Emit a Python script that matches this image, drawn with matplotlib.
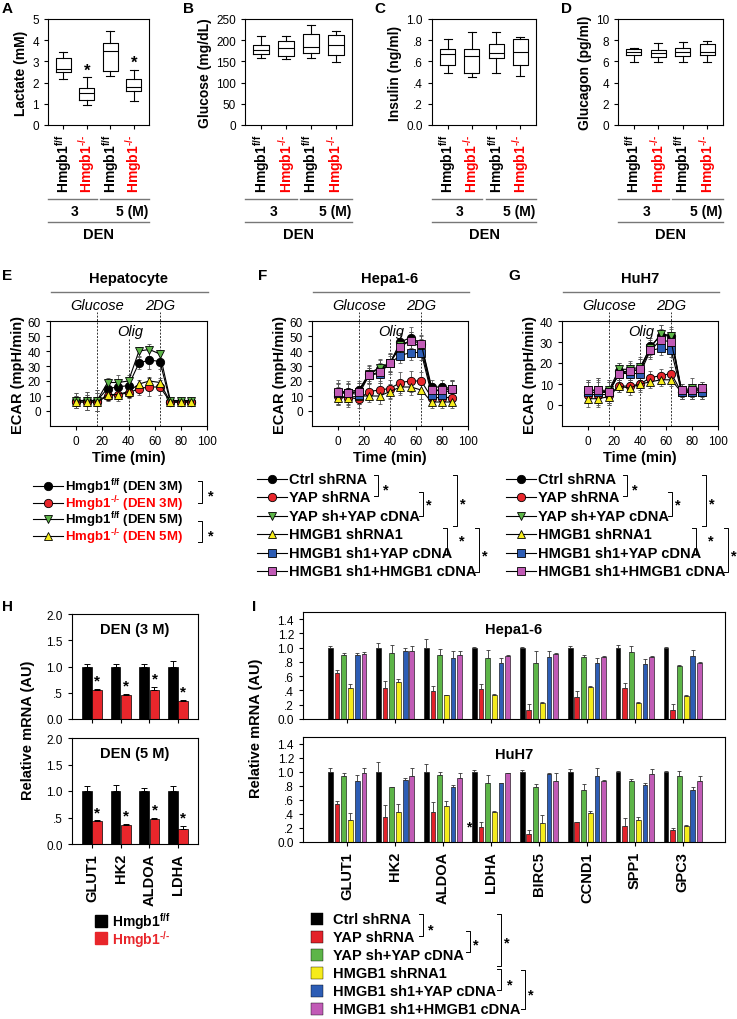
import matplotlib
matplotlib.use("Agg")
import matplotlib.pyplot as plt
import matplotlib.transforms as mtransforms
import numpy as np

plt.rcParams['font.family'] = ['Liberation Sans', 'DejaVu Sans']
plt.rcParams['mathtext.fontset'] = 'custom'
plt.rcParams['mathtext.rm'] = 'Liberation Sans:bold'
plt.rcParams['mathtext.it'] = 'Liberation Sans:bold'
plt.rcParams['mathtext.bf'] = 'Liberation Sans:bold'
plt.rcParams['mathtext.default'] = 'rm'
plt.rcParams['xtick.labelsize'] = 8.5
plt.rcParams['ytick.labelsize'] = 8.5
plt.rcParams['axes.linewidth'] = 0.8
plt.rcParams['xtick.major.size'] = 3
plt.rcParams['ytick.major.size'] = 3

FF = r"Hmgb1$^{\text{f/f}}$"
KO = r"Hmgb1$^{\text{-/-}}$"

# ---- data: panels A-D (whislo, q1, median, q3, whishi) ----
box_labels = [FF, KO, FF, KO]
box_colors = ["black", "red", "black", "red"]
lactate = [[2.15, 2.5, 2.65, 3.15, 3.45], [0.95, 1.2, 1.5, 1.75, 2.25],
           [2.3, 2.55, 3.5, 3.85, 4.45], [1.15, 1.6, 1.8, 2.15, 2.6]]
lactate_sig = [False, True, False, True]
glucose = [[158, 167, 178, 188, 210], [156, 163, 182, 198, 210],
           [157, 170, 185, 214, 235], [148, 166, 188, 212, 222]]
insulin = [[0.49, 0.565, 0.67, 0.72, 0.81], [0.45, 0.49, 0.655, 0.715, 0.875],
           [0.49, 0.63, 0.675, 0.765, 0.88], [0.46, 0.57, 0.69, 0.81, 0.83]]
glucagon = [[5.9, 6.65, 6.9, 7.15, 7.3], [5.9, 6.45, 6.75, 7.1, 7.75],
            [5.9, 6.5, 6.9, 7.3, 7.8], [5.9, 6.65, 6.85, 7.65, 7.9]]
no_sig = [False] * 4

# ---- data: panels E-G (ECAR) ----
time_min = [0, 8, 16, 24, 32, 40, 48, 56, 64, 72, 80, 88]
inj_times = [16, 40, 64]

hep_ff3 = [7, 7, 7, 15, 16, 17, 32, 34, 33, 6, 6, 6]
hep_ff3_err = [5, 6, 7, 4, 5, 5, 4, 6, 5, 2, 2, 2]
hep_ko3 = [6, 6, 6, 10, 11, 12, 15, 16, 16, 6, 6, 6]
hep_ko3_err = [4, 5, 6, 3, 4, 3, 4, 6, 5, 2, 2, 2]
hep_ff5 = [7, 7, 7, 19, 19, 20, 40, 41, 38, 7, 7, 7]
hep_ff5_err = [5, 6, 7, 3, 5, 4, 3, 4, 3, 2, 2, 2]
hep_ko5 = [6, 6, 6, 11, 11, 13, 18, 20, 19, 6, 6, 6]
hep_ko5_err = [4, 5, 6, 3, 3, 3, 3, 3, 3, 2, 2, 2]

hepa_ctrl = [13, 13, 14, 25, 28, 32, 46, 49, 45, 16, 16, 15]
hepa_ctrl_err = [8, 7, 6, 5, 6, 7, 6, 7, 6, 5, 5, 6]
hepa_yapsh = [10, 9, 8, 13, 14, 15, 19, 20, 20, 9, 9, 9]
hepa_yapsh_err = [6, 6, 6, 5, 5, 6, 7, 7, 6, 4, 5, 5]
hepa_yapres = [12, 12, 13, 25, 29, 32, 44, 47, 42, 13, 14, 15]
hepa_yapres_err = [7, 7, 6, 6, 6, 5, 5, 6, 6, 5, 5, 6]
hepa_hsh = [9, 9, 10, 10, 10, 13, 16, 16, 14, 6, 6, 6]
hepa_hsh_err = [5, 5, 5, 4, 5, 5, 5, 5, 6, 4, 4, 4]
hepa_hyap = [12, 12, 11, 24, 25, 32, 37, 39, 39, 11, 11, 15]
hepa_hyap_err = [6, 6, 6, 5, 6, 6, 5, 5, 5, 5, 5, 5]
hepa_hres = [13, 12, 13, 24, 26, 32, 43, 47, 45, 14, 14, 15]
hepa_hres_err = [6, 6, 6, 5, 6, 6, 5, 6, 5, 5, 5, 5]

huh_ctrl = [6, 6, 6, 16, 16, 17, 28, 33, 33, 6, 7, 7]
huh_ctrl_err = [5, 6, 6, 4, 4, 5, 4, 5, 4, 3, 3, 3]
huh_yapsh = [5, 5, 5, 9, 9, 10, 13, 14, 15, 6, 6, 6]
huh_yapsh_err = [4, 4, 4, 3, 3, 4, 3, 3, 3, 3, 3, 3]
huh_yapres = [7, 7, 7, 17, 17, 18, 27, 34, 33, 7, 8, 8]
huh_yapres_err = [5, 6, 5, 3, 4, 5, 4, 4, 3, 3, 5, 3]
huh_hsh = [3, 3, 4, 9, 8, 10, 11, 12, 12, 6, 6, 6]
huh_hsh_err = [4, 4, 4, 3, 3, 3, 3, 3, 3, 3, 3, 3]
huh_hyap = [6, 6, 6, 15, 15, 15, 26, 27, 26, 6, 6, 6]
huh_hyap_err = [5, 5, 5, 3, 3, 4, 3, 3, 3, 3, 3, 3]
huh_hres = [7, 7, 6, 15, 16, 17, 26, 31, 30, 7, 7, 8]
huh_hres_err = [5, 6, 5, 3, 3, 5, 4, 5, 4, 3, 3, 3]

hep_names = [FF + " (DEN 3M)", KO + " (DEN 3M)", FF + " (DEN 5M)", KO + " (DEN 5M)"]
hep_text_colors = ["black", "red", "black", "red"]
cell_names = ["Ctrl shRNA", "YAP shRNA", "YAP sh+YAP cDNA", "HMGB1 shRNA1",
              "HMGB1 sh1+YAP cDNA", "HMGB1 sh1+HMGB1 cDNA"]

# ---- data: panel H ----
h_genes = ["GLUT1", "HK2", "ALDOA", "LDHA"]
h3_ff = [1.0, 1.0, 1.0, 1.0]
h3_ff_err = [0.05, 0.04, 0.04, 0.1]
h3_ko = [0.56, 0.46, 0.56, 0.34]
h3_ko_err = [0.02, 0.02, 0.05, 0.03]
h5_ff = [1.0, 1.0, 1.0, 1.0]
h5_ff_err = [0.1, 0.12, 0.06, 0.1]
h5_ko = [0.43, 0.36, 0.47, 0.28]
h5_ko_err = [0.02, 0.02, 0.03, 0.06]

# ---- data: panel I (rows = genes; cols = 6 conditions) ----
i_genes = ["GLUT1", "HK2", "ALDOA", "LDHA", "BIRC5", "CCND1", "SPP1", "GPC3"]
hepa_mrna = [[1.0, 0.65, 0.90, 0.43, 0.90, 0.91],
             [1.0, 0.43, 0.93, 0.52, 0.96, 0.96],
             [1.0, 0.39, 0.90, 0.33, 0.85, 0.90],
             [1.0, 0.42, 0.86, 0.34, 0.79, 0.89],
             [1.0, 0.13, 0.79, 0.23, 0.87, 0.91],
             [1.0, 0.31, 0.87, 0.45, 0.79, 0.87],
             [1.0, 0.43, 0.94, 0.23, 0.77, 0.87],
             [1.0, 0.13, 0.74, 0.32, 0.89, 0.79]]
hepa_mrna_err = [[0.03, 0.03, 0.03, 0.06, 0.03, 0.03],
                 [0.06, 0.10, 0.11, 0.04, 0.04, 0.06],
                 [0.12, 0.07, 0.08, 0.01, 0.10, 0.06],
                 [0.01, 0.07, 0.11, 0.01, 0.07, 0.01],
                 [0.01, 0.08, 0.17, 0.01, 0.08, 0.01],
                 [0.03, 0.08, 0.03, 0.01, 0.07, 0.01],
                 [0.04, 0.08, 0.08, 0.01, 0.07, 0.01],
                 [0.01, 0.08, 0.02, 0.01, 0.08, 0.01]]
huh_mrna = [[1.0, 0.54, 0.94, 0.31, 0.87, 0.98],
            [1.0, 0.36, 0.78, 0.43, 0.89, 0.94],
            [1.0, 0.43, 0.96, 0.52, 0.79, 0.92],
            [1.0, 0.22, 0.84, 0.43, 0.84, 0.98],
            [1.0, 0.11, 0.78, 0.27, 0.97, 0.87],
            [1.0, 0.28, 0.75, 0.41, 0.94, 0.87],
            [1.0, 0.23, 0.87, 0.31, 0.82, 0.97],
            [1.0, 0.17, 0.94, 0.23, 0.75, 0.87]]
huh_mrna_err = [[0.06, 0.04, 0.04, 0.10, 0.09, 0.08],
                [0.14, 0.17, 0.01, 0.12, 0.03, 0.12],
                [0.11, 0.14, 0.04, 0.06, 0.02, 0.06],
                [0.03, 0.06, 0.12, 0.01, 0.01, 0.01],
                [0.03, 0.06, 0.05, 0.11, 0.01, 0.12],
                [0.05, 0.01, 0.08, 0.04, 0.12, 0.01],
                [0.01, 0.11, 0.03, 0.05, 0.03, 0.08],
                [0.01, 0.03, 0.07, 0.01, 0.04, 0.07]]

RED = '#e8262b'
cond_colors = ['#000000', '#e3222a', '#5db548', '#f6ec1c', '#2d5db5', '#c15bb6']
ecar_styles = [('o', '#000000'), ('o', '#e8262b'), ('v', '#5db548'),
               ('^', '#f6ec1c'), ('s', '#2d5db5'), ('s', '#c15bb6')]
hep_styles = [('o', '#000000'), ('o', '#e8262b'), ('v', '#5db548'), ('^', '#f6ec1c')]

W, H = 737, 1020
fig = plt.figure(figsize=(W / 100, H / 100), dpi=100)


def add_ax(l, t, r, b):
    return fig.add_axes([l / W, 1 - b / H, (r - l) / W, (b - t) / H])


# overlay in pixel coords for headers, legends, brackets
ov = fig.add_axes([0, 0, 1, 1], zorder=10)
ov.set_xlim(0, W)
ov.set_ylim(H, 0)
ov.axis('off')

BOLD = dict(fontweight='bold')


def letter(x, y, s):
    ov.text(x, y, s, fontsize=11, ha='left', va='center', **BOLD)


def box_panel(l, r, data, sig, ylim, yticks, yticklabels, ylabel):
    top, bot = 20, 126
    ax = add_ax(l, top, r, bot)
    pos = [1, 2, 3, 4]
    stats = [dict(whislo=v[0], q1=v[1], med=v[2], q3=v[3], whishi=v[4], fliers=[]) for v in data]
    lp = dict(color='black', lw=0.8)
    ax.bxp(stats, positions=pos, widths=0.62, capwidths=0.34, showfliers=False,
           boxprops=lp, whiskerprops=lp, capprops=lp, medianprops=lp)
    ax.set_xlim(0.35, 4.65)
    ax.set_ylim(*ylim)
    ax.set_yticks(yticks, yticklabels)
    ax.set_xticks(pos, box_labels, rotation=90, fontsize=10, fontweight='bold')
    for lbl, c in zip(ax.get_xticklabels(), box_colors):
        lbl.set_color(c)
    ax.set_ylabel(ylabel, fontsize=10, labelpad=3, **BOLD)
    for p, v, s in zip(pos, data, sig):
        if s:
            ax.text(p, v[4], '*', ha='center', va='bottom', fontsize=12, **BOLD)
    tr = mtransforms.blended_transform_factory(ax.transData, ax.transAxes)

    def f(y):
        return (bot - y) / (bot - top)
    kw = dict(transform=tr, clip_on=False, color='#777777', lw=1.0)
    ax.plot([0.35, 2.42], [f(200)] * 2, **kw)
    ax.plot([2.58, 4.65], [f(200)] * 2, **kw)
    ax.plot([0.35, 4.65], [f(223)] * 2, **kw)
    ax.text(1.5, f(212), '3', transform=tr, ha='center', va='center', fontsize=10, **BOLD)
    ax.text(4.62, f(212), '5 (M)', transform=tr, ha='right', va='center', fontsize=10, **BOLD)
    ax.text(2.5, f(235), 'DEN', transform=tr, ha='center', va='center', fontsize=10.5, **BOLD)
    return ax


box_panel(48, 149, lactate, lactate_sig, (0, 5), [0, 1, 2, 3, 4, 5],
          ['0', '1', '2', '3', '4', '5'], 'Lactate (mM)')
box_panel(245, 352, glucose, no_sig, (0, 250), [0, 50, 100, 150, 200, 250],
          ['0', '50', '100', '150', '200', '250'], 'Glucose (mg/dL)')
box_panel(432, 536, insulin, no_sig, (0, 1.0), [0, 0.2, 0.4, 0.6, 0.8, 1.0],
          ['0.0', '.2', '.4', '.6', '.8', '1.0'], 'Insulin (ng/ml)')
box_panel(618, 723, glucagon, no_sig, (0, 10), [0, 2, 4, 6, 8, 10],
          ['0', '2', '4', '6', '8', '10'], 'Glucagon (pg/ml)')
letter(2, 9, 'A')
letter(183, 9, 'B')
letter(374, 9, 'C')
letter(561, 9, 'D')


def ecar_panel(l, r, title, ylim, yticks, series, errs, styles):
    top, bot = 322, 427
    ax = add_ax(l, top, r, bot)
    for vals, err, (mk, fc) in zip(series, errs, styles):
        ax.errorbar(time_min, vals, yerr=err, color='black', lw=0.8, marker=mk, ms=6,
                    mfc=fc, mec='black', mew=0.6, ecolor='#555555', elinewidth=0.6,
                    capsize=1.5, capthick=0.6)
    tr = mtransforms.blended_transform_factory(ax.transData, ax.transAxes)
    fy = lambda y: (bot - y) / (bot - top)
    # injection markers; Glucose and 2DG lines reach above the frame
    line_tops = [fy(313), fy(340), fy(313)]
    for x, yt in zip(inj_times, line_tops):
        ax.plot([x, x], [0, yt], transform=tr, clip_on=False, color='#333333', lw=0.7,
                ls=(0, (2, 1.5)), zorder=0)
    ax.set_xlim(-20, 100)
    ax.set_xticks([0, 20, 40, 60, 80, 100])
    ax.set_ylim(*ylim)
    ax.set_yticks(yticks)
    ax.set_xlabel('Time (min)', fontsize=10.5, labelpad=2, **BOLD)
    ax.set_ylabel('ECAR (mpH/min)', fontsize=10.5, labelpad=2, **BOLD)
    ax.text(inj_times[0], fy(306), 'Glucose', transform=tr, ha='center', va='center',
            fontsize=10.5, fontstyle='italic')
    ax.text(inj_times[2], fy(306), '2DG', transform=tr, ha='center', va='center',
            fontsize=10.5, fontstyle='italic')
    ax.text(inj_times[1] + 1, fy(332), 'Olig', transform=tr, ha='center', va='center',
            fontsize=10.5, fontstyle='italic')
    ov.text((l + r) / 2, 279, title, ha='center', va='center', fontsize=10.5, **BOLD)
    ov.plot([l + 1, r + 1], [293, 293], color='#777777', lw=1.0)
    return ax


ecar_panel(50, 207, 'Hepatocyte', (-10, 60), [0, 10, 20, 30, 40, 50, 60],
           [hep_ff3, hep_ko3, hep_ff5, hep_ko5],
           [hep_ff3_err, hep_ko3_err, hep_ff5_err, hep_ko5_err], hep_styles)
ecar_panel(312, 468, 'Hepa1-6', (-10, 60), [0, 10, 20, 30, 40, 50, 60],
           [hepa_ctrl, hepa_yapsh, hepa_yapres, hepa_hsh, hepa_hyap, hepa_hres],
           [hepa_ctrl_err, hepa_yapsh_err, hepa_yapres_err, hepa_hsh_err, hepa_hyap_err,
            hepa_hres_err], ecar_styles)
ecar_panel(562, 718, 'HuH7', (-10, 40), [0, 10, 20, 30, 40],
           [huh_ctrl, huh_yapsh, huh_yapres, huh_hsh, huh_hyap, huh_hres],
           [huh_ctrl_err, huh_yapsh_err, huh_yapres_err, huh_hsh_err, huh_hyap_err,
            huh_hres_err], ecar_styles)
letter(2, 276, 'E')
letter(258, 276, 'F')
letter(508, 276, 'G')


def bracket(x, y0, y1, sx, sy):
    ov.plot([x - 4, x, x, x - 4], [y0, y0, y1, y1], color='black', lw=0.7)
    ov.text(sx, sy + 3, '*', ha='center', va='center', fontsize=10.5, **BOLD)


def line_legend(x0, ys, names, colors, styles, fs=10.5, dy=0):
    for y, lab, c, (mk, fc) in zip(ys, names, colors, styles):
        ov.plot([x0, x0 + 30], [y, y], color='black', lw=0.8)
        ov.plot(x0 + 15, y, marker=mk, ms=6, mfc=fc, mec='black', mew=0.6)
        ov.text(x0 + 32, y + dy, lab, color=c, ha='left', va='center', fontsize=fs, **BOLD)


line_legend(33, [487, 503.5, 520, 536.5], hep_names, hep_text_colors, hep_styles,
            fs=9.5, dy=0.5)
bracket(202, 482, 504, 211, 493)
bracket(202, 522, 543, 211, 533)

row_y = [480 + 18.4 * i for i in range(6)]
for dx in (0, 249):
    line_legend(257 + dx, row_y, cell_names, ['black'] * 6, ecar_styles)
    bracket(378 + dx, 476, 497, 386 + dx, 487)
    bracket(423 + dx, 493, 517, 429 + dx, 502)
    bracket(457 + dx, 476, 527, 463 + dx, 501)
    bracket(447 + dx, 529, 555, 462 + dx, 538)
    bracket(479 + dx, 529, 573, 485 + dx, 553)

# ---- panel H ----
hx = np.arange(len(h_genes))


def h_panel(t, b, ff, ff_err, ko, ko_err, title, show_x):
    ax = add_ax(72, t, 198, b)
    ax.bar(hx - 0.18, ff, width=0.33, color='black', edgecolor='black', lw=0.5,
           yerr=[np.zeros(len(ff)), ff_err], error_kw=dict(elinewidth=0.7, capsize=2, capthick=0.7))
    ax.bar(hx + 0.18, ko, width=0.33, color=RED, edgecolor='black', lw=0.5,
           yerr=[np.zeros(len(ko)), ko_err], error_kw=dict(elinewidth=0.7, capsize=2, capthick=0.7))
    for x, v, e in zip(hx, ko, ko_err):
        ax.text(x + 0.18, v + e + 0.02, '*', ha='center', va='bottom', fontsize=11, **BOLD)
    ax.set_xlim(-0.7, 3.7)
    ax.set_ylim(0, 2.0)
    ax.set_yticks([0, 0.5, 1.0, 1.5, 2.0], ['0.0', '.5', '1.0', '1.5', '2.0'])
    ax.set_xticks(hx)
    if show_x:
        ax.set_xticklabels(h_genes, rotation=90, fontsize=10.5, fontweight='bold')
    else:
        ax.set_xticklabels([])
    ax.text(0.5, 0.86, title, transform=ax.transAxes, ha='center', va='center',
            fontsize=10.5, **BOLD)
    return ax


h_panel(615, 720, h3_ff, h3_ff_err, h3_ko, h3_ko_err, 'DEN (3 M)', False)
h_panel(739, 845, h5_ff, h5_ff_err, h5_ko, h5_ko_err, 'DEN (5 M)', True)
fig.text(28 / W, 1 - 730 / H, 'Relative mRNA (AU)', rotation=90, ha='center', va='center',
         fontsize=10.5, **BOLD)
letter(2, 607, 'H')
ov.plot(101, 922, marker='s', ms=8, color='black')
ov.plot(101, 939, marker='s', ms=8, color=RED)
ov.text(112, 922, FF, ha='left', va='center', fontsize=10, **BOLD)
ov.text(112, 939.5, KO, ha='left', va='center', fontsize=10, color=RED, **BOLD)

# ---- panel I ----
ix = np.arange(len(i_genes))
offs = (np.arange(6) - 2.5) * 0.14


def i_panel(t, b, vals, errs, title, show_x):
    ax = add_ax(303, t, 725, b)
    vals = np.array(vals)
    errs = np.array(errs)
    for k in range(6):
        ax.bar(ix + offs[k], vals[:, k], width=0.1, color=cond_colors[k], edgecolor='black',
               lw=0.4, yerr=[np.zeros(len(ix)), errs[:, k]],
               error_kw=dict(elinewidth=0.6, capsize=1.5, capthick=0.6, ecolor='#333333'))
    ax.set_xlim(-0.92, 7.88)
    ax.set_ylim(0, 1.5)
    ax.set_yticks([0, 0.2, 0.4, 0.6, 0.8, 1.0, 1.2, 1.4],
                  ['0.0', '.2', '.4', '.6', '.8', '1.0', '1.2', '1.4'])
    ax.set_xticks(ix)
    if show_x:
        ax.set_xticklabels(i_genes, rotation=90, fontsize=10.5, fontweight='bold')
    else:
        ax.set_xticklabels([])
    ax.text(0.5, 0.84, title, transform=ax.transAxes, ha='center', va='center',
            fontsize=10.5, **BOLD)
    return ax


i_panel(613, 720, hepa_mrna, hepa_mrna_err, 'Hepa1-6', False)
ax_huh = i_panel(738, 843, huh_mrna, huh_mrna_err, 'HuH7', True)
ax_huh.text(3 - 0.46, 0.12, '*', ha='center', va='bottom', fontsize=10, **BOLD)
fig.text(256 / W, 1 - 728 / H, 'Relative mRNA (AU)', rotation=90, ha='center', va='center',
         fontsize=10.5, **BOLD)
letter(252, 607, 'I')

i_rows = [920 + 18 * i for i in range(6)]
for y, name, c in zip(i_rows, cell_names, cond_colors):
    ov.plot(317, y, marker='s', ms=8, color=c, mec='black' if c != '#000000' else c, mew=0.3)
    ov.text(333, y, name, ha='left', va='center', fontsize=10.5, **BOLD)
bracket(423, 915, 937, 431, 927)
bracket(470, 932, 953, 476, 942)
bracket(501, 915, 967, 507, 940)
bracket(501, 970, 991, 510, 982)
bracket(525, 971, 1010, 531, 992)

fig.savefig('out.png', dpi=100)
